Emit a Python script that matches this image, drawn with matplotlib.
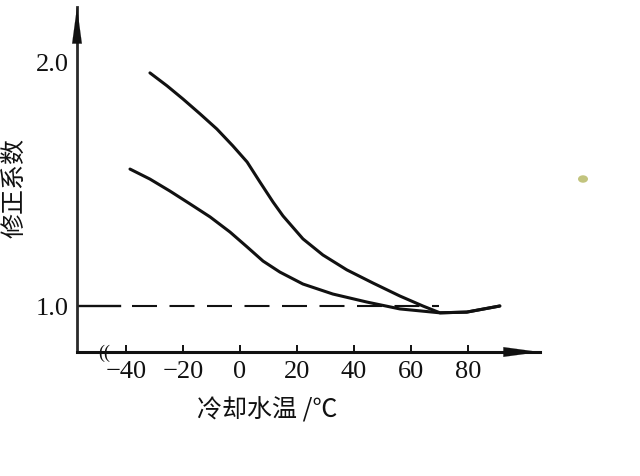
import matplotlib.pyplot as plt
from matplotlib.patches import Circle

# curve readings: cooling water temperature (C) -> correction factor
upper_temp = [-31.6, -25.6, -20, -14, -8.1, -2.5, 2.5, 7, 11.6, 15.1, 22.1,
              29.1, 37.5, 46.7, 56.1, 64.2, 70.2, 79.6, 91.2]
upper_factor = [1.955, 1.902, 1.848, 1.787, 1.725, 1.656, 1.59, 1.508, 1.426, 1.369,
                1.275, 1.209, 1.148, 1.094, 1.041, 1.0, 0.972, 0.975, 1.0]

lower_temp = [-38.6, -31.6, -24.6, -17.5, -10.5, -3.5, 2.5, 8.1, 14, 22.1, 32.6,
              44.6, 56.1, 70.2, 79.6, 91.2]
lower_factor = [1.561, 1.52, 1.471, 1.418, 1.365, 1.303, 1.242, 1.184, 1.139, 1.09,
                1.049, 1.016, 0.988, 0.972, 0.975, 1.0]

ref_factor = 1.0
ref_solid_end = -42
ref_dash_start = -38
ref_dash_end = 70

x_ticks = [-40, -20, 0, 20, 40, 60, 80]
x_tick_labels = ["−40", "−20", "0", "20", "40", "60", "80"]
y_ticks = [1.0, 2.0]
y_tick_labels = ["1.0", "2.0"]

W, H = 640, 477

plt.rcParams["font.family"] = ["Noto Sans CJK SC", "DejaVu Sans"]

fig = plt.figure(figsize=(W / 100, H / 100), dpi=100)
ax = fig.add_axes([77 / W, 1 - 353 / H, (540 - 77) / W, (353 - 8) / H])

ax.set_xlim(-57.2, 105.3)
ax.set_ylim(0.8115, 2.225)

ink = "#111111"

ax.plot(upper_temp, upper_factor, color=ink, linewidth=2.2,
        solid_capstyle="round", solid_joinstyle="round")
ax.plot(lower_temp, lower_factor, color=ink, linewidth=2.2,
        solid_capstyle="round", solid_joinstyle="round")

# reference line at 1.0: short solid part near the axis, then dashed
ax.plot([-57.2, ref_solid_end], [ref_factor, ref_factor], color=ink, linewidth=1.7)
ax.plot([ref_dash_start, ref_dash_end], [ref_factor, ref_factor], color=ink,
        linewidth=1.5, linestyle=(0, (12, 6)))

for side in ("top", "right"):
    ax.spines[side].set_visible(False)
ax.spines["left"].set_color("#2a2a2a")
ax.spines["left"].set_linewidth(2.0)
ax.spines["bottom"].set_color(ink)
ax.spines["bottom"].set_linewidth(2.2)

# axis arrows
arrow = dict(arrowstyle="-|>,head_length=2.6,head_width=0.35", color=ink,
             linewidth=0.1, shrinkA=0, shrinkB=0)
ax.annotate("", xy=(0, 1.0), xytext=(0, 0.88), xycoords="axes fraction",
            arrowprops=arrow, annotation_clip=False)
ax.annotate("", xy=(1.0, 0), xytext=(0.9, 0), xycoords="axes fraction",
            arrowprops=arrow, annotation_clip=False)

serif = ["Liberation Serif", "DejaVu Serif"]
ax.set_xticks(x_ticks)
ax.set_xticklabels(x_tick_labels, family=serif, fontsize=19)
ax.set_yticks(y_ticks)
ax.set_yticklabels(y_tick_labels, family=serif, fontsize=19)
ax.tick_params(axis="x", direction="in", length=5, width=1.4, pad=6, colors=ink)
ax.tick_params(axis="y", length=0, pad=6, colors=ink)

# axis break mark near the origin
ax.text(-47.5, 0.8115, "((", family=serif, fontsize=13, ha="center", va="center",
        color=ink)

fig.text(14 / W, 1 - 188 / H, "修正系数", rotation=90, ha="center", va="center",
         fontsize=18, color=ink)
fig.text(267 / W, 1 - 411 / H, "冷却水温 /℃", ha="center", va="center",
         fontsize=18, color=ink)

# small coloured speck from the scan
fig.add_artist(Circle((583 / W, 1 - 180 / H), 5 / W, transform=fig.transFigure,
                      color="#c2c47e", linewidth=0))

fig.savefig("out.png", dpi=100)
